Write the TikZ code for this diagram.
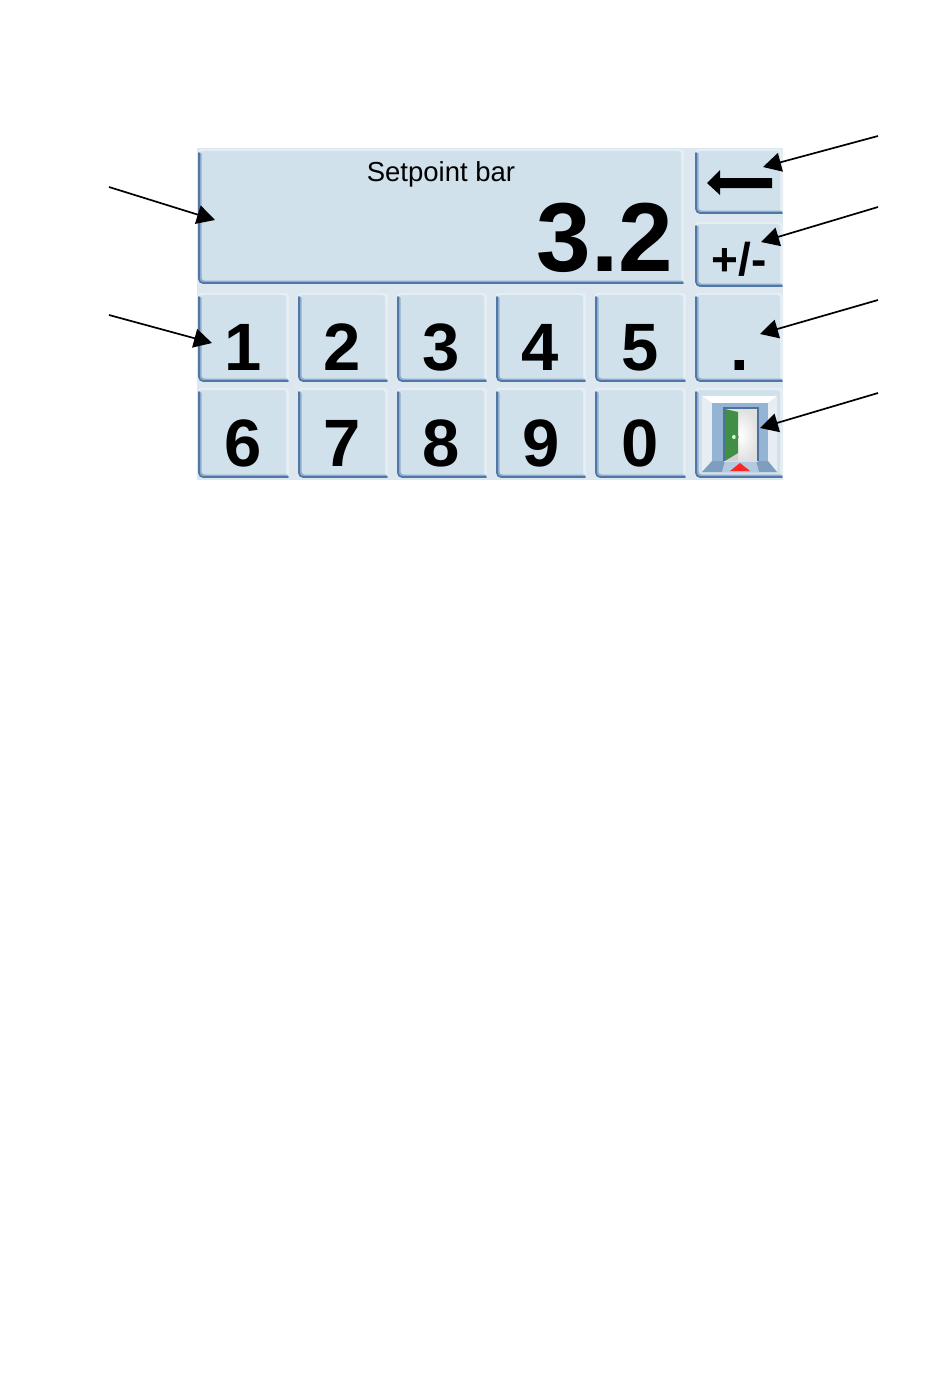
\documentclass[tikz,border=0pt]{standalone}
\usepackage{fontspec}
\setmainfont{Liberation Sans}
\usetikzlibrary{arrows.meta}
\definecolor{panel}{HTML}{DCE7EF}
\definecolor{face}{HTML}{D1E1EC}
\definecolor{edgedark}{HTML}{4F78A8}
\definecolor{edgemid}{HTML}{8FADCB}
\definecolor{edgelight}{HTML}{E6EEF3}
\definecolor{wall}{HTML}{94B4D4}
\definecolor{frameblue}{HTML}{4F729B}
\definecolor{floorblue}{HTML}{7F9DBE}
\definecolor{doorgreen}{HTML}{3F8F45}
\tikzset{
  x=1pt,y=-1pt,
  keyface/.style={fill=face,draw=none,rounded corners=3pt,inner sep=0pt,anchor=north west},
  digit/.style={font=\fontsize{67}{67}\selectfont\bfseries,anchor=base,inner sep=0pt,text=black},
  callout/.style={line width=1.7pt,draw=black,-{Triangle[length=18pt,width=19pt]}},
}
% name, x1, y1, x2, y2
\newcommand{\keybtn}[5]{%
  \fill[edgelight,rounded corners=3pt] (#2,#3) rectangle (#4+1,#5);
  \node[keyface,minimum width=#4-#2-3,minimum height=#5-#3-4] (#1) at (#2+1,#3+2) {};
  \draw[edgemid,line width=3pt,rounded corners=4pt,line cap=round] (#2+2,#3+5) -- (#2+2,#5-2) -- (#4-1,#5-2);
  \draw[edgedark,line width=1.7pt,rounded corners=4pt,line cap=round] (#2+1,#3+4) -- (#2+1,#5-1) -- (#4,#5-1);
}
\begin{document}
\begin{tikzpicture}
\useasboundingbox (0,0) rectangle (950,1392);
\fill[white] (0,0) rectangle (950,1392);
\fill[panel] (197,148) rectangle (783,480);
\keybtn{display}{198}{149}{683}{284}
\keybtn{back}{695}{149}{782}{214}
\keybtn{sign}{695}{222}{782}{287}
\keybtn{k1}{198}{293}{288}{382}
\keybtn{k2}{298}{293}{387}{382}
\keybtn{k3}{397}{293}{486}{382}
\keybtn{k4}{496}{293}{585}{382}
\keybtn{k5}{595}{293}{685}{382}
\keybtn{kdot}{695}{293}{782}{382}
\keybtn{k6}{198}{388}{288}{478}
\keybtn{k7}{298}{388}{387}{478}
\keybtn{k8}{397}{388}{486}{478}
\keybtn{k9}{496}{388}{585}{478}
\keybtn{k0}{595}{388}{685}{478}
\keybtn{kexit}{695}{388}{782}{478}
% texts
\node[font=\fontsize{27.5}{28}\selectfont,anchor=base,inner sep=0pt] (title) at (441,181) {Setpoint bar};
\node[font=\fontsize{98}{98}\selectfont\bfseries,anchor=base east,inner sep=0pt] (value) at (673,271) {3.2};
\node[digit] (t1) at (243,370) {1};
\node[digit] (t2) at (342,370) {2};
\node[digit] (t3) at (441,370) {3};
\node[digit] (t4) at (540,370) {4};
\node[digit] (t5) at (640,370) {5};
\node[digit] (tdot) at (740,370) {.};
\node[digit] (t6) at (243,466) {6};
\node[digit] (t7) at (342,466) {7};
\node[digit] (t8) at (441,466) {8};
\node[digit] (t9) at (541,466) {9};
\node[digit] (t0) at (640,466) {0};
\node[font=\fontsize{46}{46}\selectfont\bfseries,anchor=base,inner sep=0pt] (tsign) at (739,275) {+/-};
% back arrow glyph
\fill[black] (707,183) -- (720,170) -- (720,178) -- (772,178) -- (772,188) -- (720,188) -- (720,195) -- cycle;
% door icon
\fill[white] (702,396) -- (777,396) -- (768,403) -- (712,403) -- cycle;
\fill[edgelight] (702,396) -- (712,403) -- (712,461) -- (702,472) -- cycle;
\fill[edgelight] (777,396) -- (768,403) -- (768,461) -- (777,472) -- cycle;
\fill[wall] (712,403) rectangle (768,461);
\fill[floorblue] (712,461) -- (768,461) -- (777,472) -- (702,472) -- cycle;
\fill[wall!70!white] (725,461) -- (756,461) -- (759,472) -- (722,472) -- cycle;
\shade[inner color=white,outer color=black!12] (724,409) rectangle (758,461);
\draw[frameblue,line width=2.5pt] (724,461) -- (724,408) -- (758,408) -- (758,461);
\fill[black!18] (726,461) -- (738,453) -- (738,461) -- cycle;
\fill[doorgreen] (725,409) -- (738,412) -- (738,453) -- (725,461) -- cycle;
\fill[white!85!green] (734,437) circle (2pt);
\draw[black!55,line width=.6pt] (737,437) circle (1.5pt);
\fill[red!85!white] (730,471) -- (740,463) -- (750,471) -- cycle;
% callouts
\coordinate (a1s) at (878,136); \coordinate (a1t) at (763,167);
\coordinate (a2s) at (878,207); \coordinate (a2t) at (761,242);
\coordinate (a3s) at (878,300); \coordinate (a3t) at (760,334);
\coordinate (a4s) at (878,393); \coordinate (a4t) at (760,428);
\coordinate (a5s) at (109,187); \coordinate (a5t) at (215,220);
\coordinate (a6s) at (109,315); \coordinate (a6t) at (212,343);
\foreach \n in {1,...,6} \draw[callout] (a\n s) -- (a\n t);
\end{tikzpicture}
\end{document}
